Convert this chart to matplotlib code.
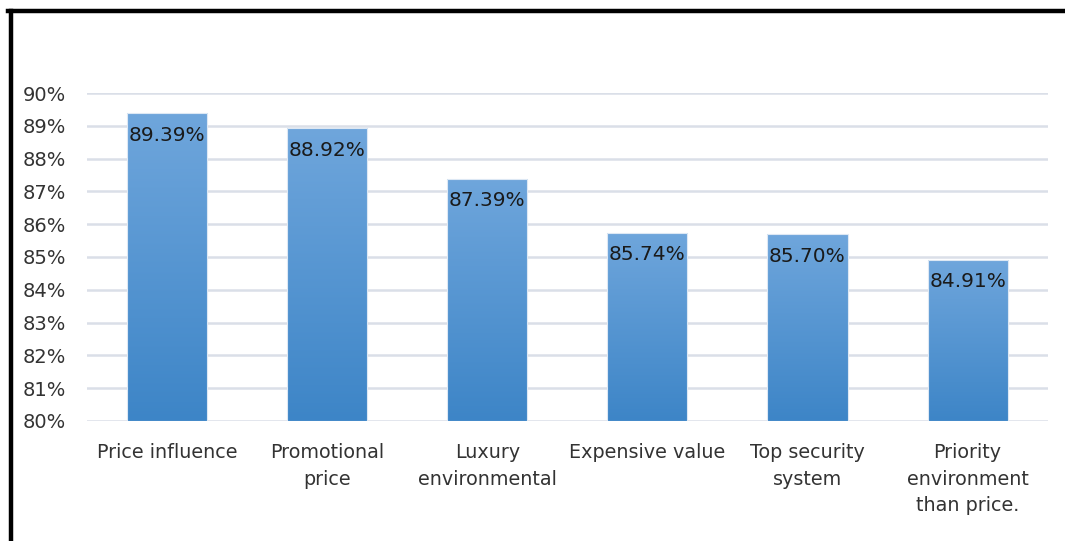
import numpy as np
import matplotlib.pyplot as plt
from matplotlib.lines import Line2D
from matplotlib.colors import LinearSegmentedColormap

categories = ['Price influence', 'Promotional\nprice', 'Luxury\nenvironmental',
              'Expensive value', 'Top security\nsystem', 'Priority\nenvironment\nthan price.']
values = [89.39, 88.92, 87.39, 85.74, 85.70, 84.91]
yticks = [80, 81, 82, 83, 84, 85, 86, 87, 88, 89, 90]

plt.rcParams['font.family'] = ['DejaVu Sans']

fig = plt.figure(figsize=(10.65, 5.41), dpi=100)
ax = fig.add_axes([0.0817, 0.222, 0.902, 0.606])

x = np.arange(len(values))
width = 0.5
ax.set_xlim(-0.5, len(values) - 0.5)
ax.set_ylim(80, 90)

# gradient fill, lighter at top
cmap = LinearSegmentedColormap.from_list('bars', ['#3d85c7', '#6fa6dc'])
grad = np.linspace(0, 1, 256).reshape(-1, 1)
bars = ax.bar(x, [v - 80 for v in values], width=width, bottom=80,
              color='none', edgecolor='#dde8f4', linewidth=0.8, zorder=3)
for b in bars:
    x0, y0 = b.get_x(), b.get_y()
    x1, y1 = x0 + b.get_width(), y0 + b.get_height()
    im = ax.imshow(grad, extent=[x0, x1, y0, y1], origin='lower', cmap=cmap,
                   aspect='auto', zorder=2)
    im.set_clip_path(b)

for xi, v in zip(x, values):
    ax.annotate('%.2f%%' % v, (xi, v), xytext=(0, -9), textcoords='offset points',
                ha='center', va='top', fontsize=14.5, color='#1a1a1a', zorder=4)

ax.set_yticks(yticks)
ax.set_yticklabels(['%d%%' % t for t in yticks], fontsize=14, color='#333333')
ax.set_xticks(x)
ax.set_xticklabels(categories, fontsize=13.8, color='#333333', linespacing=1.5)
ax.tick_params(length=0)
ax.tick_params(axis='x', pad=16)
ax.tick_params(axis='y', pad=15)
ax.grid(axis='y', color='#dadfe8', linewidth=1.8, zorder=0)
for s in ax.spines.values():
    s.set_visible(False)

# black frame on top and left
fig.add_artist(Line2D([8 / 1065, 1], [1 - 11 / 541, 1 - 11 / 541],
                      transform=fig.transFigure, color='black', linewidth=3.2))
fig.add_artist(Line2D([11 / 1065, 11 / 1065], [0, 1 - 11 / 541],
                      transform=fig.transFigure, color='black', linewidth=3.2))

fig.savefig('out.png', dpi=100)
